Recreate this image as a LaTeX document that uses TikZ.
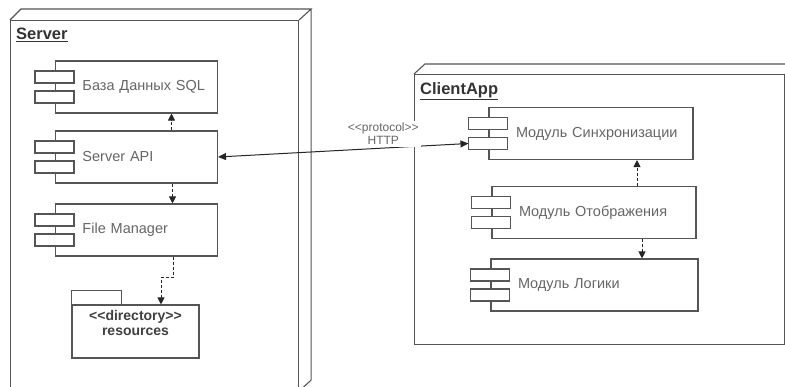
\documentclass[tikz,border=0pt]{standalone}
\usepackage{fontspec}
\setmainfont{Liberation Sans}[Ligatures=TeXOff]
\usetikzlibrary{arrows.meta}

\definecolor{linegray}{HTML}{555555}
\definecolor{textgray}{HTML}{666666}

\tikzstyle{box3d}=[draw=linegray, line width=1.1pt, inner sep=0pt]
\tikzstyle{title}=[font=\bfseries\fontsize{16.5}{18}\selectfont, text=black!80, inner sep=0pt, anchor=north west]
\tikzstyle{comp}=[draw=linegray, line width=1.1pt, fill=white, minimum height=52pt, inner xsep=0pt, align=left, text=textgray, font=\fontsize{14.5}{16}\selectfont, execute at begin node={\hspace*{27pt}}]
\tikzstyle{tab}=[draw=linegray, line width=1.1pt, fill=white]
\tikzstyle{pkg}=[draw=linegray, line width=1.1pt, minimum width=127pt, minimum height=53pt, align=center, text depth=17pt, text=black!75, font=\bfseries\fontsize{14}{15}\selectfont]
\tikzstyle{dep}=[draw=black!85, line width=1pt, dash pattern=on 3pt off 2pt, -{Triangle[length=7pt,width=7pt]}]
\tikzstyle{http}=[draw=black!85, line width=1pt, {Triangle[length=8pt,width=7pt]}-{Triangle[length=8pt,width=7pt]}]

\begin{document}
\begin{tikzpicture}[x=1pt, y=-1pt]
            \clip (0,0) rectangle (785,387);

            % Узлы
            \node[box3d, minimum width=288pt, minimum height=370pt, anchor=north west] (server) at (10,20) {};
            \draw[box3d] (server.north west) -- ++(11,-11) -- ([shift={(12,-11)}]server.north east) -- (server.north east)
                ([shift={(12,-11)}]server.north east) -- ([shift={(12,-11)}]server.south east) -- (server.south east);
            \node[title] (servertitle) at (16,28) {\underline{Server}};

            \node[box3d, minimum width=370pt, minimum height=270pt, anchor=north west] (client) at (414,74) {};
            \draw[box3d] (client.north west) -- ++(11,-10) -- ([shift={(11,-10)}]client.north east) -- (client.north east)
                ([shift={(11,-10)}]client.north east) -- ([shift={(11,-10)}]client.south east) -- (client.south east);
            \node[title] (clienttitle) at (420,82) {\underline{ClientApp}};

            % Компоненты сервера
            \node[comp, text width=162pt] (sql) at (136.5,87) {База Данных SQL};
            \node[comp, text width=162pt] (api) at (136.5,157) {Server API};
            \node[comp, text width=162pt] (fm) at (136.5,230) {File Manager};
            \node[pkg] (res) at (135.5,331.5) {<<directory>>\\resources};

            % Компоненты клиента
            \node[comp, text width=204pt] (sync) at (591,133.5) {Модуль Синхронизации};
            \node[comp, text width=204pt] (view) at (594,212.5) {Модуль Отображения};
            \node[comp, text width=207pt] (logic) at (594.5,285) {Модуль Логики};

            % Вкладки компонентов
            \draw[tab] ([shift={(-20,-16)}]sql.west) rectangle ++(39,12) ([shift={(-20,4)}]sql.west) rectangle ++(39,12);
            \draw[tab] ([shift={(-20,-16)}]api.west) rectangle ++(39,12) ([shift={(-20,4)}]api.west) rectangle ++(39,12);
            \draw[tab] ([shift={(-20,-16)}]fm.west) rectangle ++(39,12) ([shift={(-20,4)}]fm.west) rectangle ++(39,12);
            \draw[tab] ([shift={(-20,-16)}]sync.west) rectangle ++(39,12) ([shift={(-20,4)}]sync.west) rectangle ++(39,12);
            \draw[tab] ([shift={(-20,-16)}]view.west) rectangle ++(39,12) ([shift={(-20,4)}]view.west) rectangle ++(39,12);
            \draw[tab] ([shift={(-20,-16)}]logic.west) rectangle ++(39,12) ([shift={(-20,4)}]logic.west) rectangle ++(39,12);
            \draw[tab] (res.north west) rectangle ++(50,-14);

            % Связи
            \draw[dep] ([xshift=35]api.north) -- ([xshift=35]sql.south);
            \draw[dep] ([xshift=36]api.south) -- ([xshift=36]fm.north);
            \draw[dep] ([xshift=36.5]fm.south) -- ++(0,21) -| ([xshift=25.5]res.north);
            \draw[dep] ([xshift=43]view.north) -- ([xshift=46]sync.south);
            \draw[dep] ([xshift=48]view.south) -- ([xshift=47.5]logic.north);

            \coordinate (synctab) at ([shift={(-20,10)}]sync.west);
            \draw[http] (api.east) -- (synctab)
                node[pos=0.66, above=1pt, fill=white, inner sep=2pt, align=center, text=textgray, font=\fontsize{12}{13}\selectfont] (proto) {<<protocol>>\\HTTP};
        \end{tikzpicture}
\end{document}
